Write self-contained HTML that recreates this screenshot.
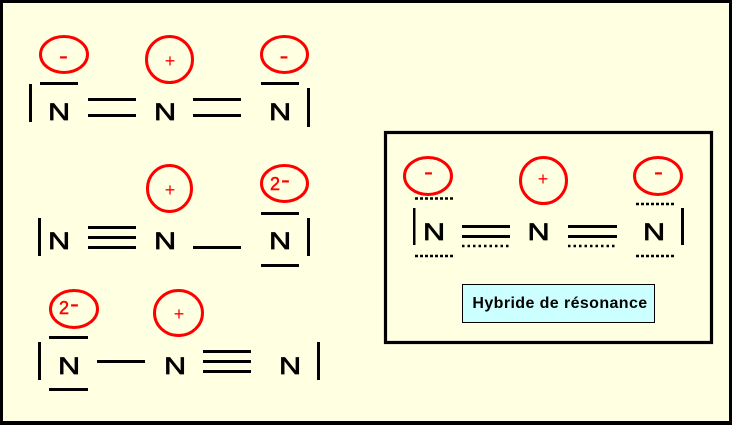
<!DOCTYPE html>
<html><head><meta charset="utf-8"><style>
html,body{margin:0;padding:0;background:#000;}
svg{display:block;}
text{font-family:"Liberation Sans",Arial,sans-serif;}
</style></head><body>
<svg width="732" height="425" viewBox="0 0 732 425" xmlns="http://www.w3.org/2000/svg">
<rect x="0" y="0" width="732" height="425" fill="#000"/>
<rect x="3" y="3" width="726" height="418" fill="#FFFFE1"/>

<!-- Row 1 -->
<g fill="none" stroke="#FF0000" stroke-width="3">
<ellipse cx="64" cy="54.5" rx="23.5" ry="18"/>
<ellipse cx="169.5" cy="59.5" rx="23" ry="23"/>
<ellipse cx="284.5" cy="54.5" rx="23" ry="18"/>
</g>
<g fill="#FF0000" font-weight="bold">
<text transform="translate(63.5,62) scale(1.5,1)" text-anchor="middle" font-size="18">-</text>
<text transform="translate(284,62) scale(1.5,1)" text-anchor="middle" font-size="18">-</text>
</g>
<text x="170" y="67" text-anchor="middle" font-size="18" fill="#FF0000">+</text>
<g fill="#000">
<rect x="29" y="84" width="3" height="38"/>
<rect x="40" y="82" width="38" height="3"/>
<rect x="88" y="98" width="48" height="3"/>
<rect x="88" y="114" width="48" height="3"/>
<rect x="193" y="98" width="48" height="3"/>
<rect x="193" y="114" width="48" height="3"/>
<rect x="261" y="82" width="38" height="3"/>
<rect x="307" y="88" width="3" height="39"/>
</g>
<g fill="#000" stroke="#000" stroke-width="0.7" font-size="24.5">
<text transform="translate(59,120) scale(1.25,1)" text-anchor="middle">N</text>
<text transform="translate(165,120) scale(1.25,1)" text-anchor="middle">N</text>
<text transform="translate(280,120) scale(1.25,1)" text-anchor="middle">N</text>
</g>

<!-- Row 2 -->
<g fill="none" stroke="#FF0000" stroke-width="3">
<ellipse cx="169.5" cy="188.5" rx="22" ry="23"/>
<ellipse cx="284.5" cy="183.5" rx="23" ry="18"/>
</g>
<text x="170" y="196" text-anchor="middle" font-size="18" fill="#FF0000">+</text>
<text x="270" y="190" font-size="18" fill="#FF0000" stroke="#FF0000" stroke-width="0.5">2</text>
<text transform="translate(285.5,186) scale(1.5,1)" text-anchor="middle" font-size="18" font-weight="bold" fill="#FF0000">-</text>
<g fill="#000">
<rect x="38" y="218" width="3" height="38"/>
<rect x="88" y="226" width="48" height="3"/>
<rect x="88" y="236" width="48" height="3"/>
<rect x="88" y="246" width="48" height="3"/>
<rect x="193" y="246" width="48" height="3"/>
<rect x="261" y="212" width="38" height="3"/>
<rect x="261" y="264" width="38" height="3"/>
<rect x="307" y="218" width="3" height="38"/>
</g>
<g fill="#000" stroke="#000" stroke-width="0.7" font-size="24.5">
<text transform="translate(59,249) scale(1.25,1)" text-anchor="middle">N</text>
<text transform="translate(165,249) scale(1.25,1)" text-anchor="middle">N</text>
<text transform="translate(280,249) scale(1.25,1)" text-anchor="middle">N</text>
</g>

<!-- Row 3 -->
<g fill="none" stroke="#FF0000" stroke-width="3">
<ellipse cx="74" cy="309" rx="23.5" ry="18.5"/>
<ellipse cx="178.5" cy="313" rx="24" ry="22.5"/>
</g>
<text x="179" y="320" text-anchor="middle" font-size="18" fill="#FF0000">+</text>
<text x="59" y="314" font-size="18" fill="#FF0000" stroke="#FF0000" stroke-width="0.5">2</text>
<text transform="translate(74.5,310) scale(1.5,1)" text-anchor="middle" font-size="18" font-weight="bold" fill="#FF0000">-</text>
<g fill="#000">
<rect x="38" y="342" width="3" height="38"/>
<rect x="49" y="336" width="39" height="3"/>
<rect x="49" y="388" width="39" height="3"/>
<rect x="97" y="360" width="48" height="3"/>
<rect x="203" y="350" width="48" height="3"/>
<rect x="203" y="360" width="48" height="3"/>
<rect x="203" y="370" width="48" height="3"/>
<rect x="317" y="342" width="3" height="38"/>
</g>
<g fill="#000" stroke="#000" stroke-width="0.7" font-size="24.5">
<text transform="translate(69,374) scale(1.25,1)" text-anchor="middle">N</text>
<text transform="translate(175,374) scale(1.25,1)" text-anchor="middle">N</text>
<text transform="translate(290,374) scale(1.25,1)" text-anchor="middle">N</text>
</g>

<!-- Resonance hybrid box -->
<rect x="385.5" y="132.5" width="326" height="210" fill="none" stroke="#000" stroke-width="3.2"/>
<g fill="none" stroke="#FF0000" stroke-width="3">
<ellipse cx="428" cy="176" rx="23.5" ry="18.5"/>
<ellipse cx="543.5" cy="180.5" rx="23" ry="23"/>
<ellipse cx="658" cy="176" rx="23.5" ry="18.5"/>
</g>
<g fill="#FF0000" font-weight="bold">
<text transform="translate(428.5,178) scale(1.5,1)" text-anchor="middle" font-size="18">-</text>
<text transform="translate(658.5,178) scale(1.5,1)" text-anchor="middle" font-size="18">-</text>
</g>
<text x="543" y="185" text-anchor="middle" font-size="18" fill="#FF0000">+</text>
<g stroke="#000" stroke-width="2.5" stroke-dasharray="3 2" fill="none">
<line x1="415" y1="198.5" x2="453" y2="198.5"/>
<line x1="415" y1="256" x2="453" y2="256"/>
<line x1="636" y1="204" x2="674" y2="204"/>
<line x1="636" y1="256" x2="674" y2="256"/>
<line x1="462" y1="246" x2="511" y2="246" stroke-dasharray="2.5 3"/>
<line x1="568" y1="246" x2="617" y2="246" stroke-dasharray="2.5 3"/>
</g>
<g fill="#000">
<rect x="413" y="208" width="2.5" height="37"/>
<rect x="462" y="225" width="48" height="3"/>
<rect x="462" y="235" width="48" height="3"/>
<rect x="568" y="225" width="49" height="3"/>
<rect x="568" y="235" width="49" height="3"/>
<rect x="681" y="208" width="3" height="37"/>
</g>
<g fill="#000" stroke="#000" stroke-width="0.7" font-size="24.5">
<text transform="translate(434,240) scale(1.25,1)" text-anchor="middle">N</text>
<text transform="translate(538.5,240) scale(1.25,1)" text-anchor="middle">N</text>
<text transform="translate(654,240) scale(1.25,1)" text-anchor="middle">N</text>
</g>
<rect x="462.5" y="284.5" width="192" height="38" fill="#CCFFFF" stroke="#000" stroke-width="1"/>
<text x="560" y="308" text-anchor="middle" font-size="16" font-weight="bold" letter-spacing="0.4" fill="#000">Hybride de résonance</text>
</svg>
</body></html>
